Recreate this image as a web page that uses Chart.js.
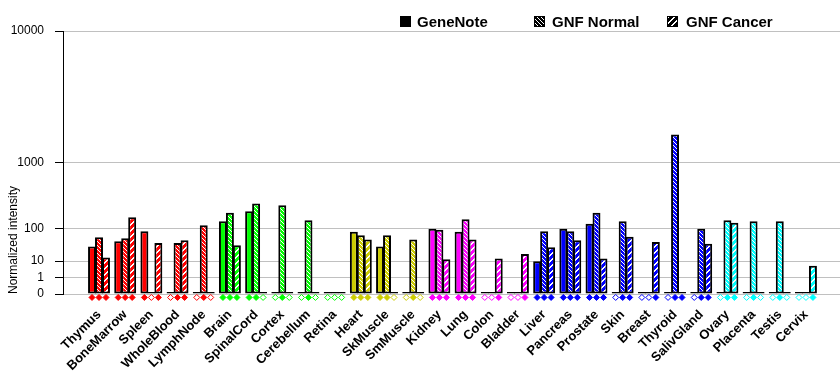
<!DOCTYPE html>
<html>
<head>
<meta charset="utf-8">
<script src="https://cdn.jsdelivr.net/npm/chart.js@4.4.0/dist/chart.umd.min.js"></script>
<style>
  html, body { margin: 0; padding: 0; background: #fff; }
  #wrap { width: 840px; height: 385px; }
</style>
</head>
<body>
<div id="wrap"><canvas id="grafico" width="840" height="385"></canvas></div>
<script>
// tecidos (categorias)
const tecidos = ['Thymus', 'BoneMarrow', 'Spleen', 'WholeBlood', 'LymphNode', 'Brain', 'SpinalCord',
  'Cortex', 'Cerebellum', 'Retina', 'Heart', 'SkMuscle', 'SmMuscle', 'Kidney', 'Lung', 'Colon',
  'Bladder', 'Liver', 'Pancreas', 'Prostate', 'Skin', 'Breast', 'Thyroid', 'SalivGland', 'Ovary',
  'Placenta', 'Testis', 'Cervix'];

// intensidade normalizada
const geneNote  = [34, 48, 86, 0, 0, 140, 214, 0, 0, 0, 83, 34, 0, 98, 83, 0, 0, 10, 97, 124, 0, 0, 0, 0, 0, 0, 0, 0];
const gnfNormal = [61, 58, 0, 43, 116, 201, 289, 271, 146, 0, 69, 69, 54, 93, 153, 0, 0, 86, 86, 201, 140, 0, 1900, 97, 146, 140, 140, 0];
const gnfCancer = [14, 167, 43, 51, 0, 37, 0, 0, 0, 0, 54, 0, 0, 12, 54, 13, 19, 32, 51, 13, 63, 46, 0, 41, 130, 0, 0, 6];

// marcadores (1 = cheio, 0 = vazio)
const presGeneNote  = [1, 1, 1, 0, 0, 1, 1, 0, 0, 0, 1, 1, 0, 1, 1, 0, 0, 1, 1, 1, 0, 0, 0, 0, 0, 0, 0, 0];
const presGnfNormal = [1, 1, 0, 1, 1, 1, 1, 1, 1, 0, 1, 1, 1, 1, 1, 0, 0, 1, 1, 1, 1, 0, 1, 1, 1, 1, 1, 0];
const presGnfCancer = [1, 1, 1, 1, 0, 1, 0, 0, 0, 0, 1, 0, 0, 1, 1, 1, 1, 1, 1, 1, 1, 1, 1, 1, 1, 0, 0, 1];

const yTickLabels = [0, 1, 10, 100, 1000, 10000];

// cor de cada grupo de tecidos
const corTecido = [
  '#ff0000', '#ff0000', '#ff0000', '#ff0000', '#ff0000',
  '#00ff00', '#00ff00', '#00ff00', '#00ff00', '#00ff00',
  '#cccc00', '#cccc00', '#cccc00',
  '#ff00ff', '#ff00ff', '#ff00ff', '#ff00ff',
  '#0000ff', '#0000ff', '#0000ff', '#0000ff', '#0000ff', '#0000ff', '#0000ff',
  '#00ffff', '#00ffff', '#00ffff', '#00ffff'
];

// escala do eixo y: cada decada vale o dobro da anterior
const EXPOENTE = Math.log10(2);
const t = v => v <= 0 ? 0 : Math.pow(v, EXPOENTE);

const categoryPercentage = 0.80;
const linhaMarcadores = -0.21;

function padrao(cor, tipo) {
  const n = tipo === 'normal' ? 4 : 6;
  const c = document.createElement('canvas');
  c.width = n; c.height = n;
  const g = c.getContext('2d');
  g.fillStyle = cor;
  g.fillRect(0, 0, n, n);
  g.fillStyle = '#fff';
  for (let x = 0; x < n; x++) {
    for (let y = 0; y < n; y++) {
      if (tipo === 'normal' && x === y) g.fillRect(x, y, 1, 1);
      if (tipo === 'cancer' && ((x + y) % n === 0 || (x + y) % n === 1)) g.fillRect(x, y, 1, 1);
    }
  }
  return g.createPattern(c, 'repeat');
}

function serieBarras(nome, valores, tipo) {
  return {
    type: 'bar',
    label: nome,
    data: valores.map((v, i) => ({x: i, y: t(v)})),
    backgroundColor: corTecido.map(c => tipo ? padrao(c, tipo) : c),
    borderColor: '#000',
    borderWidth: 2,
    borderSkipped: false,
    minBarLength: 2,
    categoryPercentage: categoryPercentage,
    barPercentage: 1.14,
    clip: false
  };
}

function serieMarcadores(pres, k) {
  const desloc = (k - 1) * categoryPercentage / 3;
  return {
    type: 'scatter',
    data: pres.map((p, i) => ({x: i + desloc, y: linhaMarcadores})),
    pointStyle: 'rectRot',
    pointRadius: 3,
    pointBorderWidth: 1,
    pointBorderColor: corTecido,
    pointBackgroundColor: pres.map((p, i) => p ? corTecido[i] : '#fff'),
    showLine: false,
    clip: false
  };
}

const legendaFixa = {
  id: 'legendaFixa',
  afterDraw(chart) {
    const ctx = chart.ctx;
    const itens = [
      {texto: 'GeneNote', fill: '#000', x: 400, tx: 417},
      {texto: 'GNF Normal', fill: padrao('#000', 'normal'), x: 534, tx: 552},
      {texto: 'GNF Cancer', fill: padrao('#000', 'cancer'), x: 667, tx: 686}
    ];
    ctx.save();
    ctx.font = 'bold 15px Arial, "Liberation Sans", sans-serif';
    ctx.textBaseline = 'alphabetic';
    itens.forEach(it => {
      ctx.fillStyle = it.fill;
      ctx.fillRect(it.x, 16, 11, 11);
      ctx.strokeStyle = '#000';
      ctx.lineWidth = 1;
      ctx.strokeRect(it.x + 0.5, 16.5, 10, 10);
      ctx.fillStyle = '#000';
      ctx.fillText(it.texto, it.tx, 27);
    });
    ctx.restore();
  }
};

new Chart(document.getElementById('grafico'), {
  type: 'bar',
  data: {
    datasets: [
      serieBarras('GeneNote', geneNote, null),
      serieBarras('GNF Normal', gnfNormal, 'normal'),
      serieBarras('GNF Cancer', gnfCancer, 'cancer'),
      serieMarcadores(presGeneNote, 0),
      serieMarcadores(presGnfNormal, 1),
      serieMarcadores(presGnfCancer, 2)
    ]
  },
  options: {
    responsive: false,
    animation: false,
    layout: {autoPadding: false, padding: {top: 31, right: 0, left: 0, bottom: 0}},
    plugins: {legend: {display: false}, tooltip: {enabled: false}},
    scales: {
      x: {
        type: 'linear',
        min: -1.375,
        max: 28.3,
        offset: false,
        grid: {display: false},
        border: {display: false},
        afterBuildTicks: s => { s.ticks = tecidos.map((_, i) => ({value: i})); },
        afterFit: s => { s.height = 91; s.paddingLeft = 0; s.paddingRight = 0; },
        ticks: {
          autoSkip: false,
          minRotation: 45,
          maxRotation: 45,
          padding: 5,
          color: '#000',
          font: {family: 'Arial, "Liberation Sans", sans-serif', size: 13, weight: 'bold'},
          callback: v => tecidos[v]
        }
      },
      y: {
        type: 'linear',
        min: 0,
        max: t(10000),
        afterBuildTicks: s => { s.ticks = yTickLabels.map(v => ({value: t(v)})); },
        afterFit: s => { s.width = 63; },
        grid: {color: '#c0c0c0', tickColor: '#000', tickLength: 8},
        border: {color: '#000', width: 1},
        ticks: {
          padding: 11,
          color: '#000',
          font: {family: 'Arial, "Liberation Sans", sans-serif', size: 12},
          callback: (v, i) => yTickLabels[i]
        },
        title: {
          display: true,
          text: 'Normalized intensity',
          align: 'start',
          color: '#000',
          padding: {top: 6, bottom: 0},
          font: {family: 'Arial, "Liberation Sans", sans-serif', size: 12}
        }
      }
    }
  },
  plugins: [legendaFixa]
});
</script>
</body>
</html>
